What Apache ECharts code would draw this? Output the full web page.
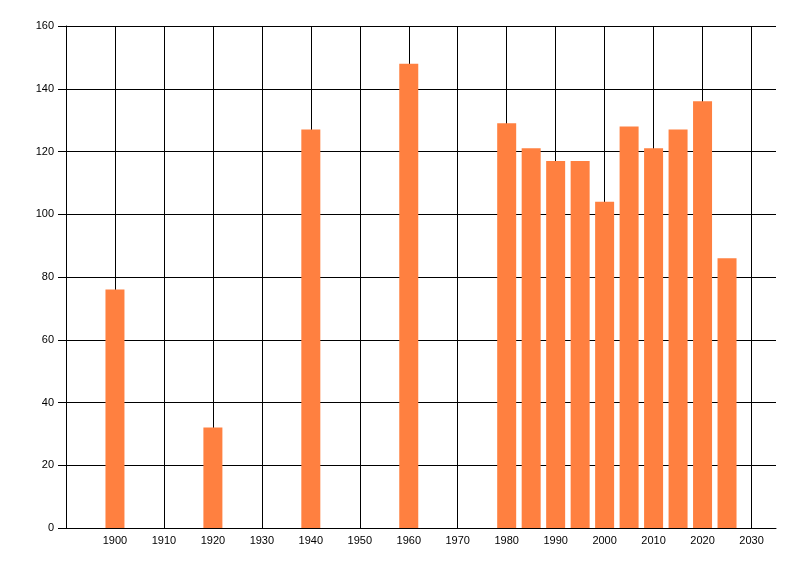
<!DOCTYPE html>
<html>
<head>
<meta charset="utf-8">
<script src="https://cdn.jsdelivr.net/npm/echarts@6/dist/echarts.min.js"></script>
<style>
  html, body { margin: 0; padding: 0; background: #fff; }
  #main { width: 800px; height: 576px; }
</style>
</head>
<body>
<div id="main"></div>
<script>
// values
var years = [1900, 1920, 1940, 1960, 1980, 1985, 1990, 1995, 2000, 2005, 2010, 2015, 2020, 2025];
var counts = [76, 32, 127, 148, 129, 121, 117, 117, 104, 128, 121, 127, 136, 86];

var points = years.map(function (y, i) { return [y, counts[i]]; });

var myChart = echarts.init(document.getElementById('main'));
var fontStyle = { color: '#000', fontSize: 11, fontFamily: 'Liberation Sans, Arial, sans-serif' };

myChart.setOption({
    animation: false,
    grid: { left: 66, right: 24, top: 26, bottom: 48 },
    xAxis: {
        type: 'value',
        min: 1890,
        max: 2035,
        interval: 10,
        axisLine: { show: true, lineStyle: { color: '#000', width: 1 } },
        axisTick: { show: false },
        axisLabel: Object.assign({
            margin: 7,
            formatter: function (v) { return (v === 1890 || v === 2035) ? '' : String(v); }
        }, fontStyle),
        splitLine: { show: true, showMinLine: false, showMaxLine: false, lineStyle: { color: '#000', width: 1 } }
    },
    yAxis: {
        type: 'value',
        min: 0,
        max: 160,
        interval: 20,
        axisLine: { show: true, lineStyle: { color: '#000', width: 1 } },
        axisTick: { show: true, length: 8, inside: false, lineStyle: { color: '#000' } },
        axisLabel: Object.assign({ margin: 12 }, fontStyle),
        splitLine: { show: true, showMinLine: false, lineStyle: { color: '#000', width: 1 } }
    },
    series: [{
        type: 'bar',
        data: points,
        barWidth: 19,
        itemStyle: { color: '#FF8040' },
        z: 3
    }]
});
</script>
</body>
</html>
